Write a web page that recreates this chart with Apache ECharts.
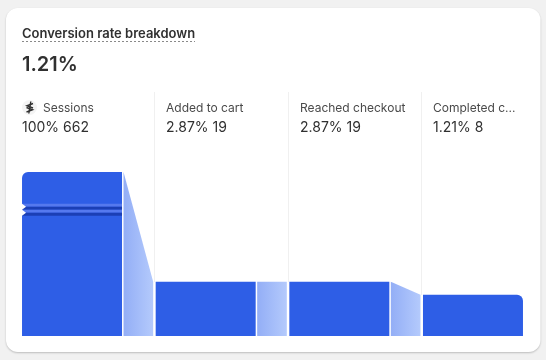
<!DOCTYPE html>
<html>
<head>
<meta charset="utf-8">
<style>
  html, body { margin: 0; padding: 0; background: #f1f1f1; }
  #chart { width: 546px; height: 360px; }
</style>
<script src="https://cdn.jsdelivr.net/npm/echarts@6/dist/echarts.min.js"></script>
</head>
<body>
<div id="chart"></div>
<script>
const steps = ['Sessions', 'Added to cart', 'Reached checkout', 'Completed c...']
const rates = ['100%', '2.87%', '2.87%', '1.21%']
const counts = [662, 19, 19, 8]

const title = 'Conversion rate breakdown'
const headline = '1.21%'

const BLUE = '#2e5ee6'
const BAR_W = 100
const FLOOR = -27
const textLeft = [22, 166, 300, 433]
const sepX = [154.5, 288.5, 421.5]
const sepBottom = [282, 282, 295]
const breakFrom = 75
const breakTo = 635

const chart = echarts.init(document.getElementById('chart'))

const textStyle = (text, x, y, size, weight, color) => ({
  type: 'text',
  x: x,
  y: y,
  style: {
    text: text,
    fill: color,
    font: weight + ' ' + size + 'px Inter',
    verticalAlign: 'middle'
  }
})

const iconLine = (points) => ({
  type: 'polyline',
  shape: { points: points },
  style: { stroke: '#303030', lineWidth: 1.4, fill: null }
})

const graphics = [
  {
    type: 'rect',
    z: -10,
    shape: { x: 6, y: 8, width: 534.5, height: 344, r: 12 },
    style: { fill: '#fff', shadowColor: 'rgba(0,0,0,0.22)', shadowBlur: 2, shadowOffsetY: 1 }
  },
  textStyle(title, 22, 34.5, 13, 600, '#303030'),
  {
    type: 'line',
    shape: { x1: 22, y1: 41.5, x2: 195, y2: 41.5 },
    style: { stroke: '#8a8a8a', lineWidth: 1, lineDash: [2, 2] }
  },
  textStyle(headline, 22, 65, 20, 600, '#303030'),
  { type: 'circle', shape: { cx: 29.5, cy: 107.5, r: 7.5 }, style: { fill: '#f4f4f4' } },
  iconLine([[30.8, 101.5], [28.8, 113.5]]),
  iconLine([[33, 103.5], [27, 105.8], [33, 108]]),
  iconLine([[26.5, 107.5], [32.5, 109.8], [26.5, 112]])
]

sepX.forEach((x, i) => {
  graphics.push({
    type: 'line',
    shape: { x1: x, y1: 92, x2: x, y2: sepBottom[i] },
    style: { stroke: '#f0f0f0', lineWidth: 1 }
  })
})

steps.forEach((name, i) => {
  graphics.push(textStyle(name, i === 0 ? 43 : textLeft[i], 108, 12, 400, '#4a4a4a'))
  graphics.push(textStyle(rates[i] + ' ' + counts[i], textLeft[i], 127.5, 14, 400, '#303030'))
})

// bars stand on FLOOR, not on zero, so small counts stay tall enough to see
const renderBar = (params, api) => {
  const i = api.value(0)
  const top = api.coord([i, api.value(1)])
  const floor = api.coord([i, FLOOR])
  const r = i === 0 ? [6, 0, 0, 0] : i === counts.length - 1 ? [0, 6, 0, 0] : 0
  return {
    type: 'rect',
    shape: { x: top[0] - BAR_W / 2, y: top[1], width: BAR_W, height: floor[1] - top[1], r: r },
    style: { fill: BLUE }
  }
}

// wedge between one bar and the next
const renderConnector = (params, api) => {
  const i = api.value(0)
  if (i >= counts.length - 1) return null
  const a = api.coord([i, counts[i]])
  const b = api.coord([i + 1, counts[i + 1]])
  const floor = api.coord([i, FLOOR])
  const x0 = a[0] + BAR_W / 2 + 1.5
  const x1 = b[0] - BAR_W / 2 - 2.5
  return {
    type: 'polygon',
    shape: { points: [[x0, a[1]], [x1, b[1]], [x1, floor[1]], [x0, floor[1]]] },
    style: {
      fill: new echarts.graphic.LinearGradient(0, 0, 1, 0, [
        { offset: 0, color: '#93aef6' },
        { offset: 1, color: '#b4cafc' }
      ])
    }
  }
}

// squeezed part of the first bar, where the axis is cut
const renderBreak = (params, api) => {
  const c = api.coord([0, breakFrom])
  const top = api.coord([0, breakTo])[1]
  const h = (c[1] - top) / 4
  const left = c[0] - BAR_W / 2
  const colors = ['#5579ee', '#1b3fb5', '#5579ee', '#1b3fb5']
  const children = colors.map((color, k) => ({
    type: 'rect',
    shape: { x: left, y: top + h * k, width: BAR_W, height: h },
    style: { fill: color }
  }))
  children.push({
    type: 'polygon',
    shape: { points: [[left, top], [left + 4, top + h], [left, top + 2 * h], [left + 4, top + 3 * h], [left, top + 4 * h]] },
    style: { fill: '#fff' }
  })
  return { type: 'group', children: children }
}

chart.setOption({
  animation: false,
  graphic: graphics,
  grid: { left: 5.2, width: 534.6, top: 172, bottom: 24 },
  xAxis: { type: 'category', data: steps, show: false },
  yAxis: {
    type: 'value',
    min: FLOOR,
    max: 662,
    show: false,
    breaks: [{ start: breakFrom, end: breakTo, gap: 10 }],
    breakArea: { show: false }
  },
  series: [
    {
      type: 'custom',
      renderItem: renderBar,
      data: counts.map((value, i) => [i, value]),
      silent: true
    },
    {
      type: 'custom',
      renderItem: renderConnector,
      data: counts.map((value, i) => [i, value]),
      silent: true
    },
    {
      type: 'custom',
      renderItem: renderBreak,
      data: [[0, counts[0]]],
      silent: true,
      z: 5
    }
  ]
})
</script>
</body>
</html>
